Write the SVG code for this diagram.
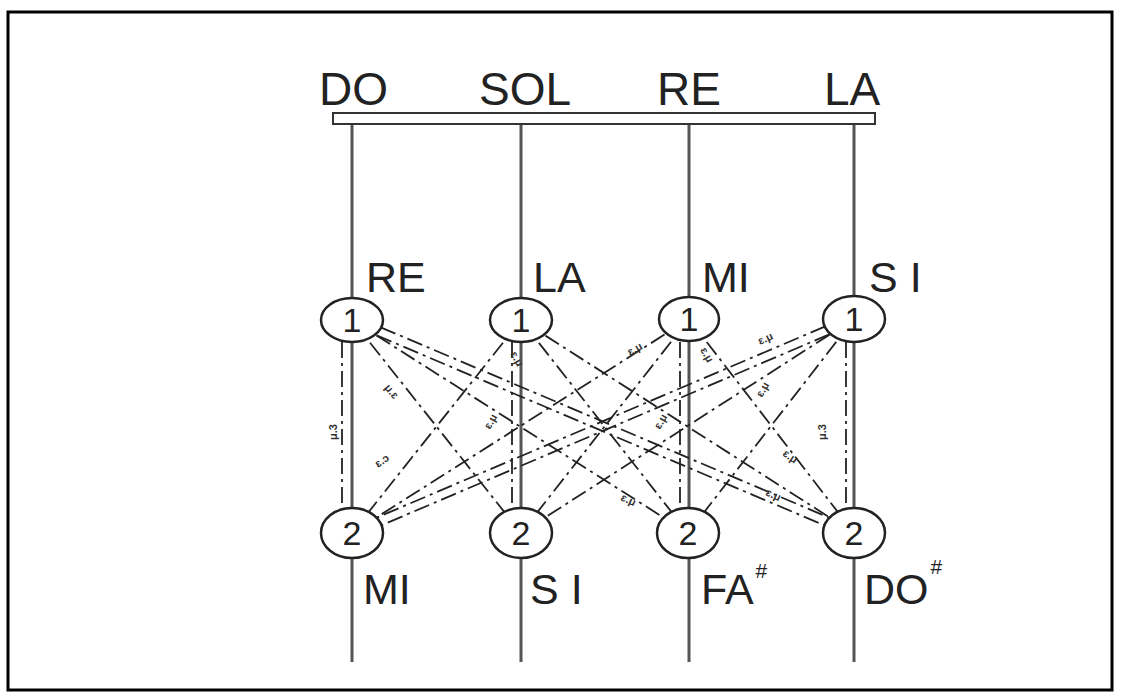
<svg xmlns="http://www.w3.org/2000/svg" width="1121" height="697" viewBox="0 0 1121 697">
<style>
.lbl{font-family:"Liberation Sans",Arial,sans-serif;fill:#222;}
.big{font-size:46px;}
.mid{font-size:43px;}
.dig{font-size:34px;text-anchor:middle;}
.sm{font-size:11px;font-weight:bold;fill:#333;}
.sup{font-size:21px;}
.str{stroke:#555;stroke-width:3;fill:none;}
.dd{stroke:#222;stroke-width:1.8;fill:none;stroke-dasharray:16 5 3 5;}
.node{fill:#fff;stroke:#222;stroke-width:2.5;}
</style>
<rect x="8" y="12" width="1104" height="678" fill="#fff" stroke="#000" stroke-width="3"/>

<g id="strings">
<line class="str" x1="352" y1="124" x2="352" y2="662"/>
<line class="str" x1="521" y1="124" x2="521" y2="662"/>
<line class="str" x1="689" y1="124" x2="689" y2="662"/>
<line class="str" x1="854" y1="124" x2="854" y2="662"/>
</g>

<g id="bar">
<rect x="333" y="113" width="542" height="11" fill="#fff" stroke="#333" stroke-width="2"/>
</g>

<g id="top-labels">
<text class="lbl big" x="319" y="105">DO</text>
<text class="lbl big" x="479" y="105">SOL</text>
<text class="lbl big" x="657" y="105">RE</text>
<text class="lbl big" x="824" y="105">LA</text>
</g>

<g id="connectors">
<line class="dd" x1="342" y1="342" x2="342" y2="508"/>
<line class="dd" x1="512" y1="342" x2="512" y2="508"/>
<line class="dd" x1="680" y1="342" x2="680" y2="508"/>
<line class="dd" x1="846" y1="342" x2="846" y2="508"/>
<line class="dd" x1="352" y1="320" x2="521" y2="533"/>
<line class="dd" x1="352" y1="320" x2="688" y2="533"/>
<line class="dd" x1="354" y1="316" x2="856" y2="529"/>
<line class="dd" x1="350" y1="324" x2="852" y2="537"/>
<line class="dd" x1="521" y1="320" x2="352" y2="533"/>
<line class="dd" x1="521" y1="320" x2="688" y2="533"/>
<line class="dd" x1="521" y1="320" x2="854" y2="533"/>
<line class="dd" x1="689" y1="319" x2="352" y2="533"/>
<line class="dd" x1="689" y1="319" x2="521" y2="533"/>
<line class="dd" x1="689" y1="319" x2="854" y2="533"/>
<line class="dd" x1="852" y1="315" x2="350" y2="529"/>
<line class="dd" x1="856" y1="323" x2="354" y2="537"/>
<line class="dd" x1="854" y1="319" x2="521" y2="533"/>
<line class="dd" x1="854" y1="319" x2="688" y2="533"/>
</g>

<g id="connector-labels">
<text class="lbl sm" transform="translate(337,440) rotate(-90)">μ.3</text>
<text class="lbl sm" transform="translate(826,440) rotate(-90)">μ.3</text>
<text class="lbl sm" transform="translate(378,468) rotate(-35)">ɛ.ɔ</text>
<text class="lbl sm" transform="translate(384,388) rotate(50)">μ.ɛ</text>
<text class="lbl sm" transform="translate(510,354) rotate(60)">ɛ.μ</text>
<text class="lbl sm" transform="translate(490,430) rotate(-60)">ɛ.μ</text>
<text class="lbl sm" transform="translate(630,356) rotate(-30)">ɛ.μ</text>
<text class="lbl sm" transform="translate(700,350) rotate(60)">ɛ.μ</text>
<text class="lbl sm" transform="translate(660,430) rotate(-60)">ɛ.μ</text>
<text class="lbl sm" transform="translate(760,345) rotate(-25)">ɛ.μ</text>
<text class="lbl sm" transform="translate(762,398) rotate(-60)">ɛ.μ</text>
<text class="lbl sm" transform="translate(782,455) rotate(35)">ɛ.μ</text>
<text class="lbl sm" transform="translate(765,495) rotate(25)">ɛ.μ</text>
<text class="lbl sm" transform="translate(620,500) rotate(25)">ɛ.μ</text>
</g>

<g id="mid-labels">
<text class="lbl mid" x="366" y="292">RE</text>
<text class="lbl mid" x="533" y="292">LA</text>
<text class="lbl mid" x="702" y="292">MI</text>
<text class="lbl mid" x="869" y="292">S I</text>
</g>

<g id="n-re1"><ellipse class="node" cx="352" cy="320" rx="31" ry="22"/><text class="lbl dig" x="352" y="332">1</text></g>
<g id="n-la1"><ellipse class="node" cx="521" cy="320" rx="31" ry="22"/><text class="lbl dig" x="521" y="332">1</text></g>
<g id="n-mi1"><ellipse class="node" cx="689" cy="319" rx="30" ry="22"/><text class="lbl dig" x="689" y="331">1</text></g>
<g id="n-si1"><ellipse class="node" cx="854" cy="319" rx="31" ry="23"/><text class="lbl dig" x="854" y="331">1</text></g>

<g id="n-mi2"><ellipse class="node" cx="352" cy="533" rx="31" ry="25"/><text class="lbl dig" x="352" y="545">2</text></g>
<g id="n-si2"><ellipse class="node" cx="521" cy="533" rx="31" ry="25"/><text class="lbl dig" x="521" y="545">2</text></g>
<g id="n-fa2"><ellipse class="node" cx="688" cy="533" rx="31" ry="25"/><text class="lbl dig" x="688" y="545">2</text></g>
<g id="n-do2"><ellipse class="node" cx="854" cy="533" rx="31" ry="25"/><text class="lbl dig" x="854" y="545">2</text></g>

<g id="bottom-labels">
<text class="lbl mid" x="363" y="604">MI</text>
<text class="lbl mid" x="530" y="604">S I</text>
<text class="lbl mid" x="701" y="604">FA<tspan class="sup" dx="2" dy="-26">#</tspan></text>
<text class="lbl mid" x="864" y="604">DO<tspan class="sup" dx="2" dy="-30">#</tspan></text>
</g>
</svg>
